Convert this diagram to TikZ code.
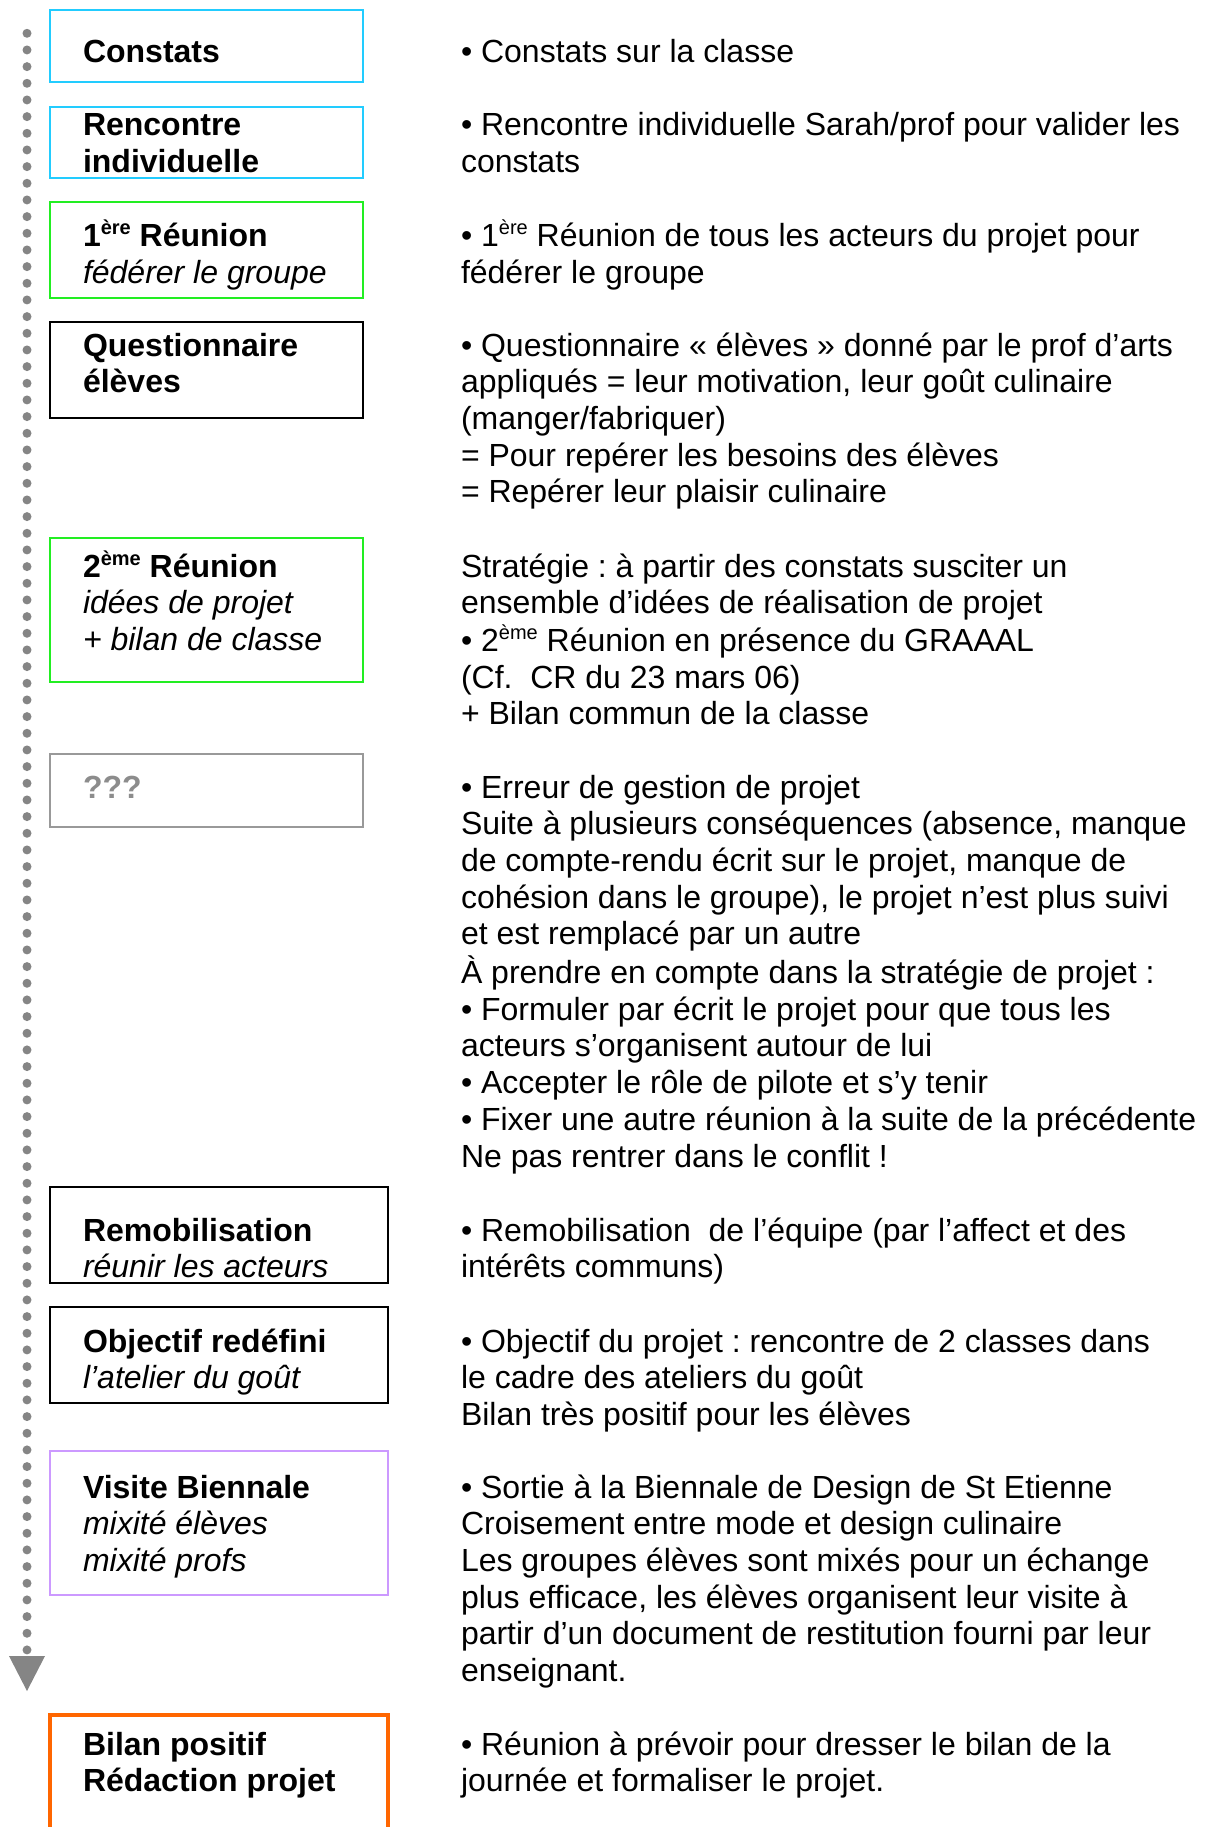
\documentclass[tikz,border=0pt]{standalone}
\usepackage{fontspec}
\setmainfont{Liberation Sans}
\definecolor{cyanb}{HTML}{22CCFF}
\definecolor{greenb}{HTML}{22EE22}
\definecolor{grayb}{HTML}{999999}
\definecolor{graytxt}{HTML}{8C8C8C}
\definecolor{purpleb}{HTML}{CC99FF}
\definecolor{orangeb}{HTML}{FF6600}
\definecolor{dotgray}{HTML}{858585}
\newcommand\supx[1]{\raisebox{12pt}{\fontsize{20}{20}\selectfont #1}}
\newcommand\para[1]{\begin{tabular}[t]{@{}l@{}}#1\end{tabular}}
\begin{document}
\frenchspacing
\begin{tikzpicture}[x=1pt,y=-1pt,
  box/.style={draw, inner sep=0pt, outer sep=0pt, anchor=north west},
  txt/.style={anchor=base west, inner sep=0pt, outer sep=0pt, font=\fontsize{32}{36.7}\selectfont\frenchspacing},
  dotline/.style={draw=dotgray, line width=9pt, line cap=round, dash pattern=on 0pt off 16.666pt}]
\useasboundingbox (0,0) rectangle (1207,1827);
\clip (0,0) rectangle (1207,1827);

% timeline
\coordinate (tstart) at (27,33.3);
\coordinate (tend) at (27,1650);
\draw[dotline] (tstart) -- (tend);
\fill[dotgray] (9,1656) -- (45,1656) -- (27,1691) -- cycle;

% boxes
\node[box, draw=cyanb, line width=2pt, minimum width=313pt, minimum height=72pt] (b1) at (50,10) {};
\node[box, draw=cyanb, line width=2pt, minimum width=313pt, minimum height=71pt] (b2) at (50,107) {};
\node[box, draw=greenb, line width=2.2pt, minimum width=313pt, minimum height=96pt] (b3) at (50,202) {};
\node[box, draw=black, line width=2.6pt, minimum width=313pt, minimum height=96pt] (b4) at (50,322) {};
\node[box, draw=greenb, line width=2.2pt, minimum width=313pt, minimum height=144pt] (b5) at (50,538) {};
\node[box, draw=grayb, line width=2.4pt, minimum width=313pt, minimum height=73pt] (b6) at (50,754) {};
\node[box, draw=black, line width=2.6pt, minimum width=338pt, minimum height=96pt] (b7) at (50,1187) {};
\node[box, draw=black, line width=2.6pt, minimum width=338pt, minimum height=96pt] (b8) at (50,1307) {};
\node[box, draw=purpleb, line width=2pt, minimum width=338pt, minimum height=144pt] (b9) at (50,1451) {};
\node[box, draw=orangeb, line width=4.5pt, minimum width=338pt, minimum height=160pt] (b10) at (50,1715) {};

% left texts
\node[txt] (l1) at (83,63) {\bfseries Constats};
\node[txt] (l2) at (83,136) {\bfseries\para{Rencontre\\individuelle}};
\node[txt] (l3) at (83,247) {\para{\textbf{1\supx{ère} Réunion}\\\textit{fédérer le groupe}}};
\node[txt] (l4) at (83,356) {\bfseries\para{Questionnaire\\élèves}};
\node[txt] (l5) at (83,577) {\para{\textbf{2\supx{ème} Réunion}\\\textit{idées de projet}\\\textit{+ bilan de classe}}};
\node[txt, text=graytxt] (l6) at (83,798) {\bfseries ???};
\node[txt] (l7) at (83,1241) {\para{\textbf{Remobilisation}\\\textit{réunir les acteurs}}};
\node[txt] (l8) at (83,1352) {\para{\textbf{Objectif redéfini}\\\textit{l’atelier du goût}}};
\node[txt] (l9) at (83,1498) {\para{\textbf{Visite Biennale}\\\textit{mixité élèves}\\\textit{mixité profs}}};
\node[txt] (l10) at (83,1755) {\bfseries\para{Bilan positif\\Rédaction projet}};

% right texts
\node[txt] (r1) at (461,63) {• Constats sur la classe};
\node[txt] (r2) at (461,136) {\para{• Rencontre individuelle Sarah/prof pour valider les\\constats}};
\node[txt] (r3) at (461,247) {\para{• 1\supx{ère} Réunion de tous les acteurs du projet pour\\fédérer le groupe}};
\node[txt] (r4) at (461,356) {\para{• Questionnaire « élèves » donné par le prof d’arts\\appliqués = leur motivation, leur goût culinaire\\(manger/fabriquer)\\= Pour repérer les besoins des élèves\\= Repérer leur plaisir culinaire}};
\node[txt] (r5) at (461,577) {\para{Stratégie : à partir des constats susciter un\\ensemble d’idées de réalisation de projet\\• 2\supx{ème} Réunion en présence du GRAAAL\\(Cf.\ \ CR du 23 mars 06)\\+ Bilan commun de la classe}};
\node[txt] (r6) at (461,798) {\para{• Erreur de gestion de projet\\Suite à plusieurs conséquences (absence, manque\\de compte-rendu écrit sur le projet, manque de\\cohésion dans le groupe), le projet n’est plus suivi\\et est remplacé par un autre\\À prendre en compte dans la stratégie de projet :\\• Formuler par écrit le projet pour que tous les\\acteurs s’organisent autour de lui\\• Accepter le rôle de pilote et s’y tenir\\• Fixer une autre réunion à la suite de la précédente\\Ne pas rentrer dans le conflit !}};
\node[txt] (r7) at (461,1241) {\para{• Remobilisation\ \ de l’équipe (par l’affect et des\\intérêts communs)}};
\node[txt] (r8) at (461,1352) {\para{• Objectif du projet : rencontre de 2 classes dans\\le cadre des ateliers du goût\\Bilan très positif pour les élèves}};
\node[txt] (r9) at (461,1498) {\para{• Sortie à la Biennale de Design de St Etienne\\Croisement entre mode et design culinaire\\Les groupes élèves sont mixés pour un échange\\plus efficace, les élèves organisent leur visite à\\partir d’un document de restitution fourni par leur\\enseignant.}};
\node[txt] (r10) at (461,1755) {\para{• Réunion à prévoir pour dresser le bilan de la\\journée et formaliser le projet.}};
\end{tikzpicture}
\end{document}
